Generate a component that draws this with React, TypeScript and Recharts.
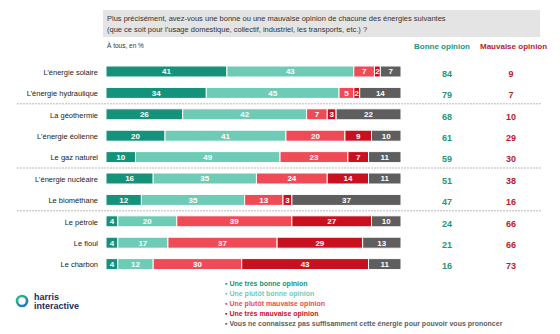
import React from "react";
import { BarChart, Bar, XAxis, YAxis, LabelList, Legend } from "recharts";

const categories = [
  "L’énergie solaire",
  "L’énergie hydraulique",
  "La géothermie",
  "L’énergie éolienne",
  "Le gaz naturel",
  "L’énergie nucléaire",
  "Le biométhane",
  "Le pétrole",
  "Le fioul",
  "Le charbon",
];
const tresBonne = [41, 34, 26, 20, 10, 16, 12, 4, 4, 4];
const plutotBonne = [43, 45, 42, 41, 49, 35, 35, 20, 17, 12];
const plutotMauvaise = [7, 5, 7, 20, 23, 24, 13, 39, 37, 30];
const tresMauvaise = [2, 2, 3, 9, 7, 14, 3, 27, 29, 43];
const nsp = [7, 14, 22, 10, 11, 11, 37, 10, 13, 11];
const totalBonne = [84, 79, 68, 61, 59, 51, 47, 24, 21, 16];
const totalMauvaise = [9, 7, 10, 29, 30, 38, 16, 66, 66, 73];
const groupStarts = ["La géothermie", "L’énergie nucléaire", "Le pétrole"];

const SERIES = [
  { key: "tresBonne", label: "Une très bonne opinion", color: "#14937a" },
  { key: "plutotBonne", label: "Une plutôt bonne opinion", color: "#6ecbb6" },
  { key: "plutotMauvaise", label: "Une plutôt mauvaise opinion", color: "#ee4b57" },
  { key: "tresMauvaise", label: "Une très mauvaise opinion", color: "#c8101e" },
  {
    key: "nsp",
    label: "Vous ne connaissez pas suffisamment cette énergie pour pouvoir vous prononcer",
    color: "#5e5e5e",
  },
];

const data = categories.map((name, i) => ({
  name,
  tresBonne: tresBonne[i],
  plutotBonne: plutotBonne[i],
  plutotMauvaise: plutotMauvaise[i],
  tresMauvaise: tresMauvaise[i],
  nsp: nsp[i],
}));

const FONT = "'Liberation Sans', Arial, sans-serif";
const GREEN = "#23967c";
const RED = "#b81c2c";

const RowTick = (props: any) => {
  const { x, y, payload, index } = props;
  const half = payload?.offset ?? 10.7;
  const sep = groupStarts.includes(payload.value);
  return (
    <g>
      {sep && (
        <line
          x1={17}
          x2={542}
          y1={y - half}
          y2={y - half}
          stroke="#aaa"
          strokeDasharray="2 1"
          strokeWidth={0.8}
        />
      )}
      <text x={x} y={y} dy={3} textAnchor="end" fontSize={7.5} fill="#222">
        {payload.value}
      </text>
      <text x={447} y={y} dy={5} textAnchor="middle" fontSize={9} fontWeight="bold" fill={GREEN}>
        {totalBonne[index]}
      </text>
      <text x={511} y={y} dy={5} textAnchor="middle" fontSize={9} fontWeight="bold" fill={RED}>
        {totalMauvaise[index]}
      </text>
    </g>
  );
};

// legend keeps the series order (the default payload is sorted by name)
const LegendList = () => (
  <div style={{ fontFamily: FONT, fontSize: 7, fontWeight: "bold", lineHeight: "10px" }}>
    {SERIES.map((s) => (
      <div key={s.key} style={{ color: s.color, whiteSpace: "nowrap" }}>
        ▪ {s.label}
      </div>
    ))}
  </div>
);

export default function App() {
  return (
    <div
      style={{
        position: "absolute",
        left: 0,
        top: 0,
        width: 560,
        height: 334,
        background: "#fff",
        fontFamily: FONT,
      }}
    >
      <div
        style={{
          position: "absolute",
          left: 103,
          top: 10,
          width: 437,
          height: 27,
          background: "#e4e4e4",
          color: "#333",
          fontSize: 7.5,
          lineHeight: "11px",
          padding: "3px 0 0 4px",
          boxSizing: "border-box",
        }}
      >
        Plus précisément, avez-vous une bonne ou une mauvaise opinion de chacune des énergies suivantes
        <br />
        (que ce soit pour l’usage domestique, collectif, industriel, les transports, etc.) ?
      </div>
      <div style={{ position: "absolute", left: 107, top: 42, fontSize: 6.5, color: "#333" }}>
        À tous, en %
      </div>
      <div
        style={{
          position: "absolute",
          left: 414,
          top: 42,
          fontSize: 8,
          fontWeight: "bold",
          color: GREEN,
        }}
      >
        Bonne opinion
      </div>
      <div
        style={{
          position: "absolute",
          left: 480,
          top: 42,
          fontSize: 8,
          fontWeight: "bold",
          color: RED,
        }}
      >
        Mauvaise opinion
      </div>

      <BarChart
        width={560}
        height={334}
        data={data}
        layout="vertical"
        barSize={11}
        margin={{ top: 61, right: 159, bottom: 59, left: 0 }}
        style={{ fontFamily: FONT }}
      >
        <XAxis type="number" domain={[0, 100]} hide />
        <YAxis
          type="category"
          dataKey="name"
          width={106}
          axisLine={false}
          tickLine={false}
          interval={0}
          tick={<RowTick />}
        />
        {SERIES.map((s) => (
          <Bar
            key={s.key}
            dataKey={s.key}
            name={s.label}
            stackId="a"
            fill={s.color}
            stroke="#fff"
            strokeWidth={1}
            isAnimationActive={false}
          >
            <LabelList
              dataKey={s.key}
              position="center"
              fill="#fff"
              fontSize={8}
              fontWeight="bold"
            />
          </Bar>
        ))}
        <Legend
          layout="vertical"
          align="center"
          verticalAlign="middle"
          content={<LegendList />}
          wrapperStyle={{ left: 225, top: 279, width: 320 }}
        />
      </BarChart>

      <svg width={100} height={30} style={{ position: "absolute", left: 10, top: 288 }}>
        <defs>
          <linearGradient id="logoRing" x1="0" y1="0" x2="1" y2="1">
            <stop offset="0%" stopColor="#2fc27a" />
            <stop offset="100%" stopColor="#1a6fd0" />
          </linearGradient>
        </defs>
        <circle cx={12} cy={13} r={5} fill="none" stroke="url(#logoRing)" strokeWidth={2.6} />
        <text x={24} y={11.5} fontSize={9} fontWeight="bold" fill="#1b2a5e" fontFamily={FONT}>
          harris
        </text>
        <text x={24} y={21} fontSize={9} fontWeight="bold" fill="#1b2a5e" fontFamily={FONT}>
          interactive
        </text>
      </svg>
    </div>
  );
}
